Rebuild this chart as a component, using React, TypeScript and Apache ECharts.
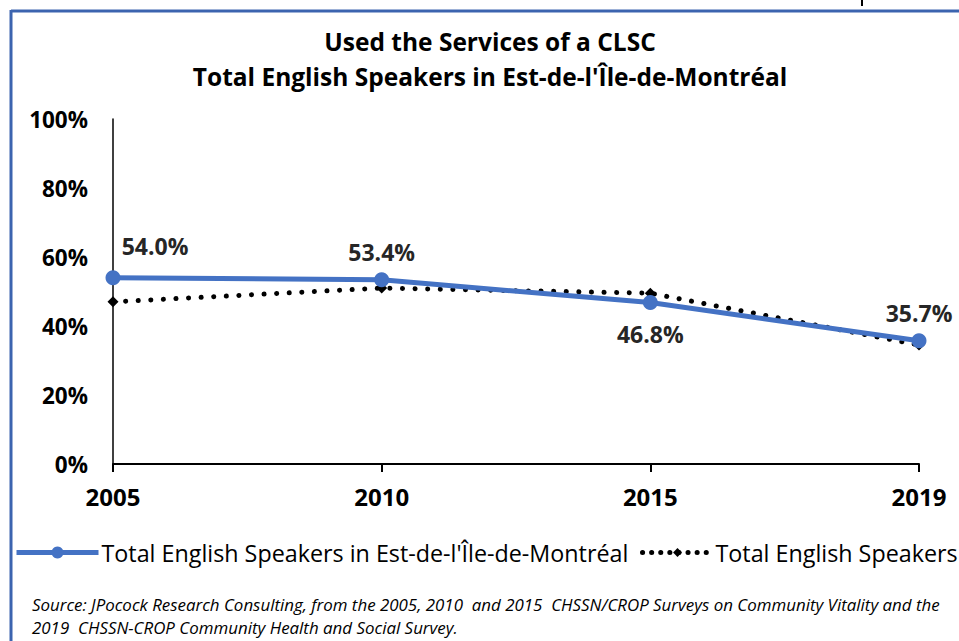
import React, { useEffect, useRef } from "react";
import * as echarts from "echarts";

const categories = ["2005", "2010", "2015", "2019"];
const estMontreal = [54.0, 53.4, 46.8, 35.7];
const totalEnglish = [47.0, 51.0, 49.5, 34.5];
const yTicks = [0, 20, 40, 60, 80, 100];
const titleLines = ["Used the Services of a CLSC", "Total English Speakers in Est-de-l'Île-de-Montréal"];
const seriesNames = ["Total English Speakers in Est-de-l'Île-de-Montréal", "Total English Speakers"];
const sourceLines = [
  "Source: JPocock Research Consulting, from the 2005, 2010  and 2015  CHSSN/CROP Surveys on Community Vitality and the",
  "2019  CHSSN-CROP Community Health and Social Survey.",
];
const labelPlacement = [
  { position: "top", offset: [42, -8] },
  { position: "top", offset: [0, -4] },
  { position: "bottom", offset: [0, 7] },
  { position: "top", offset: [0, -4] },
];

const FONT = "'Open Sans', Lato, sans-serif";

export default function App() {
  const ref = useRef<HTMLDivElement>(null);
  useEffect(() => {
    if (!ref.current) return;
    const chart = echarts.init(ref.current, null, { renderer: "svg" });
    const legendText = { fontFamily: FONT, fontSize: 23.3, color: "#000", padding: [0, 0, 0, -2] };
    chart.setOption({
      animation: false,
      backgroundColor: "#ffffff",
      textStyle: { fontFamily: FONT },
      title: {
        text: titleLines.join("\n"),
        left: 485,
        textAlign: "center",
        top: 19,
        textStyle: { fontFamily: FONT, fontSize: 24.5, fontWeight: "bold", color: "#000", lineHeight: 35 },
      },
      grid: { left: 113, right: 40, top: 119, bottom: 177, containLabel: false },
      xAxis: {
        type: "category",
        data: categories,
        boundaryGap: false,
        axisLine: { lineStyle: { color: "#000", width: 2 } },
        axisTick: { show: true, alignWithLabel: true, length: 8, lineStyle: { color: "#000", width: 2 } },
        axisLabel: { color: "#000", fontFamily: FONT, fontSize: 24, fontWeight: "bold", margin: 20 },
        splitLine: { show: false },
      },
      yAxis: {
        type: "value",
        min: yTicks[0],
        max: yTicks[yTicks.length - 1],
        interval: 20,
        axisLine: { show: true, lineStyle: { color: "#000", width: 1.5 } },
        axisTick: { show: false },
        splitLine: { show: false },
        axisLabel: {
          color: "#000",
          fontFamily: FONT,
          fontSize: 22.5,
          fontWeight: "bold",
          margin: 25,
          formatter: (v: number) => v + "%",
        },
      },
      legend: [
        {
          left: 14,
          top: 541,
          padding: 0,
          itemWidth: 82,
          itemHeight: 15,
          textStyle: legendText,
          lineStyle: { width: 5, color: "#4472C4" },
          data: [seriesNames[0]],
        },
        {
          left: 640,
          top: 541,
          padding: 0,
          itemWidth: 70,
          itemHeight: 11,
          textStyle: legendText,
          lineStyle: { width: 5, color: "#000", type: [0.1, 9], cap: "round" },
          data: [seriesNames[1]],
        },
      ],
      series: [
        {
          name: seriesNames[1],
          type: "line",
          data: totalEnglish,
          symbol: "diamond",
          symbolSize: 11,
          itemStyle: { color: "#000" },
          lineStyle: { color: "#000", width: 5, type: [0.1, 12.5], cap: "round" },
          z: 2,
        },
        {
          name: seriesNames[0],
          type: "line",
          data: estMontreal.map((v, i) => ({
            value: v,
            label: {
              show: true,
              position: labelPlacement[i].position,
              offset: labelPlacement[i].offset,
            },
          })),
          symbol: "circle",
          symbolSize: 15,
          itemStyle: { color: "#4472C4" },
          lineStyle: { color: "#4472C4", width: 5 },
          label: {
            show: true,
            formatter: (p: any) => p.value.toFixed(1) + "%",
            fontFamily: FONT,
            fontSize: 23,
            fontWeight: "bold",
            color: "#262626",
          },
          z: 3,
        },
      ],
      graphic: [
        { type: "line", shape: { x1: 11, y1: 11, x2: 959, y2: 11 }, style: { stroke: "#3C64AF", lineWidth: 3 } },
        { type: "line", shape: { x1: 11, y1: 10, x2: 11, y2: 641 }, style: { stroke: "#3C64AF", lineWidth: 3 } },
        { type: "line", shape: { x1: 862, y1: 0, x2: 862, y2: 6 }, style: { stroke: "#000", lineWidth: 2 } },
        {
          type: "text",
          left: 32,
          top: 593,
          style: {
            text: sourceLines.join("\n"),
            fontFamily: FONT,
            fontSize: 16.9,
            fontStyle: "italic",
            fill: "#000",
            lineHeight: 23,
          },
        },
      ],
    });
    return () => chart.dispose();
  }, []);
  return <div ref={ref} style={{ width: 959, height: 641, position: "absolute", left: 0, top: 0 }} />;
}
